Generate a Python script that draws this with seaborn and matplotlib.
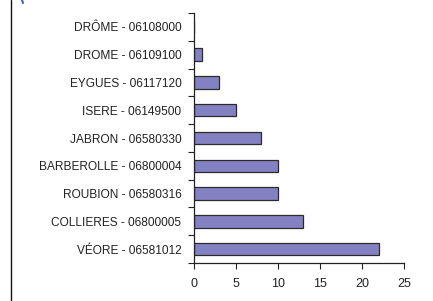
import numpy as np
import pandas as pd
import matplotlib
matplotlib.use("Agg")
import matplotlib.pyplot as plt
import seaborn as sns
from matplotlib.lines import Line2D

# data
stations = ["DRÔME - 06108000", "DROME - 06109100", "EYGUES - 06117120",
            "ISERE - 06149500", "JABRON - 06580330", "BARBEROLLE - 06800004",
            "ROUBION - 06580316", "COLLIERES - 06800005", "VÉORE - 06581012"]
counts = [0, 1, 3, 5, 8, 10, 10, 13, 22]

df = pd.DataFrame({"station": stations, "count": counts})

sns.set_style("white")
plt.rcParams['font.family'] = ['Liberation Sans', 'DejaVu Sans']

fig = plt.figure(figsize=(4.33, 3.01), dpi=100)
ax = fig.add_axes([0.448, 0.126, 0.485, 0.831])

sns.barplot(data=df, x="count", y="station", orient="h", order=stations,
            color="#8481c2", saturation=1, width=0.45,
            edgecolor="#2b2b2b", linewidth=0.9, ax=ax)

ax.set_xlim(0, 25)
ax.set_ylim(len(stations) - 0.5, -0.5)
ax.set_xticks([0, 5, 10, 15, 20, 25])
ax.tick_params(axis="x", labelsize=9, colors="#222222", direction="out",
               length=4, width=0.8, bottom=True, pad=7)

# category labels in the middle, tick marks on the boundaries (Excel style)
ax.set_yticks(np.arange(len(stations)))
ax.set_yticklabels(stations, fontsize=8.6, color="#222222")
ax.tick_params(axis="y", which="major", length=0, pad=9)
ax.set_yticks(np.arange(len(stations) + 1) - 0.5, minor=True)
ax.tick_params(axis="y", which="minor", direction="out", length=4,
               width=0.8, left=True, color="#222222")

ax.set_xlabel("")
ax.set_ylabel("")
for s in ["top", "right"]:
    ax.spines[s].set_visible(False)
for s in ["left", "bottom"]:
    ax.spines[s].set_color("#222222")
    ax.spines[s].set_linewidth(0.9)

# frame line on the left and small blue mark at the top
fig.add_artist(Line2D([11 / 433, 11 / 433], [0, 1], color="#111111",
                      linewidth=1.0, transform=fig.transFigure))
fig.add_artist(Line2D([22 / 433, 23 / 433], [1.0, 0.99], color="#3a62c8",
                      linewidth=1.5, transform=fig.transFigure))

fig.savefig("out.png", dpi=100)
